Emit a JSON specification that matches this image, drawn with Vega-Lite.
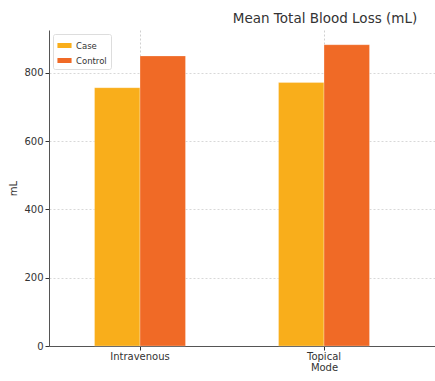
{
  "$schema": "https://vega.github.io/schema/vega-lite/v6.json",
  "width": 386,
  "height": 316,
  "padding": {"left": 49, "top": 30, "right": 0, "bottom": 35},
  "autosize": {"type": "none"},
  "background": "white",
  "config": {
    "font": "DejaVu Sans",
    "view": {"stroke": null}
  },
  "title": {
    "text": "Mean Total Blood Loss (mL)",
    "fontSize": 13.5,
    "fontWeight": "normal",
    "color": "#333333",
    "anchor": "middle",
    "dx": 83,
    "offset": 5
  },
  "data": {
    "values": [
      {"Mode": "Intravenous", "Group": "Case", "mL": 757},
      {"Mode": "Intravenous", "Group": "Control", "mL": 850},
      {"Mode": "Topical", "Group": "Case", "mL": 772},
      {"Mode": "Topical", "Group": "Control", "mL": 883}
    ]
  },
  "mark": {"type": "bar", "stroke": "#ffffff", "strokeOpacity": 0.35, "strokeWidth": 0.8},
  "encoding": {
    "x": {
      "field": "Mode",
      "type": "nominal",
      "scale": {"paddingInner": 0.5054, "paddingOuter": 0.3016, "align": 0.41},
      "axis": {
        "labelAngle": 0,
        "labelFontSize": 10,
        "labelColor": "#333333",
        "title": "Mode",
        "titleFontSize": 10,
        "titleFontWeight": "normal",
        "titleColor": "#333333",
        "titleX": 275,
        "titlePadding": 1,
        "domainColor": "#555555",
        "tickColor": "#333333",
        "tickSize": 4,
        "grid": true,
        "gridDash": [2, 2],
        "gridColor": "#d0d0d0",
        "labelPadding": 1
      }
    },
    "xOffset": {"field": "Group", "type": "nominal", "scale": {"paddingInner": 0, "paddingOuter": 0}},
    "y": {
      "field": "mL",
      "type": "quantitative",
      "scale": {"domain": [0, 926], "nice": false},
      "axis": {
        "values": [0, 200, 400, 600, 800],
        "labelFontSize": 10,
        "labelColor": "#333333",
        "title": "mL",
        "titleFontSize": 10,
        "titleFontWeight": "normal",
        "titleColor": "#333333",
        "titlePadding": 5,
        "domainColor": "#555555",
        "tickColor": "#333333",
        "tickSize": 4,
        "gridDash": [2, 2],
        "gridColor": "#d8d8d8"
      }
    },
    "color": {
      "field": "Group",
      "type": "nominal",
      "scale": {"domain": ["Case", "Control"], "range": ["#F9AE1B", "#F06A26"]},
      "legend": {
        "title": null,
        "orient": "none",
        "legendX": 4,
        "legendY": 4,
        "symbolType": "M-1,-0.35H1V0.35H-1Z",
        "symbolSize": 200,
        "symbolStrokeWidth": 0,
        "labelFontSize": 8.5,
        "labelColor": "#333333",
        "rowPadding": 3,
        "padding": 4,
        "strokeColor": "#dddddd",
        "fillColor": "white",
        "cornerRadius": 2
      }
    }
  }
}
